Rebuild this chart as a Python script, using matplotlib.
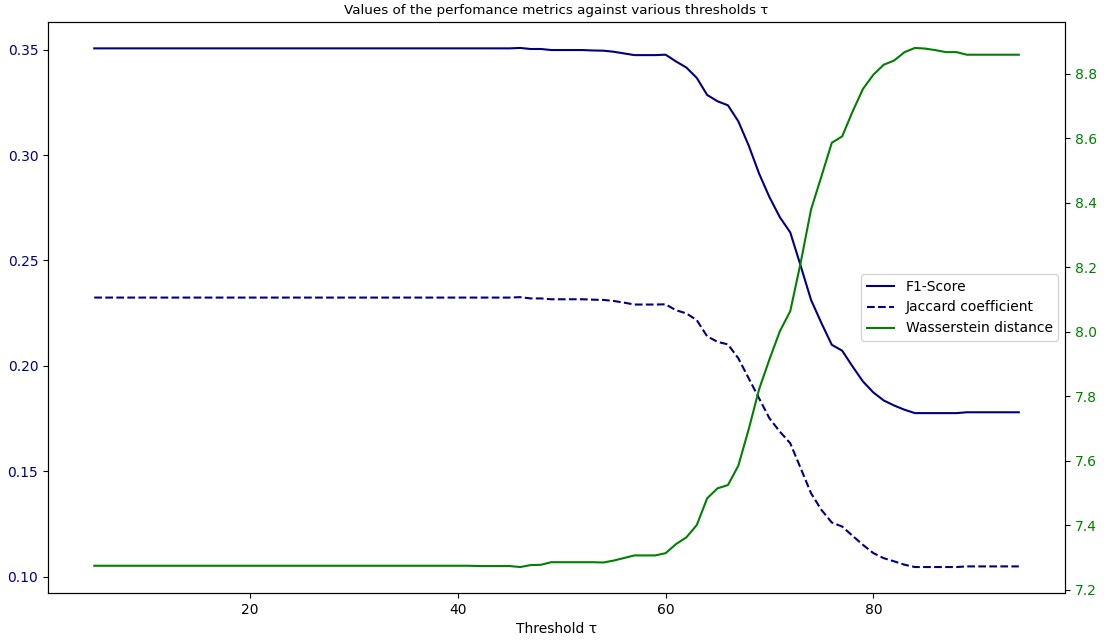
import matplotlib
matplotlib.use("Agg")
import matplotlib.pyplot as plt

thresholds = list(range(5, 95))

f1_score = [
    0.3506, 0.3506, 0.3506, 0.3506, 0.3506, 0.3506, 0.3506, 0.3506, 0.3506, 0.3506,  # 5-14
    0.3506, 0.3506, 0.3506, 0.3506, 0.3506, 0.3506, 0.3506, 0.3506, 0.3506, 0.3506,  # 15-24
    0.3506, 0.3506, 0.3506, 0.3506, 0.3506, 0.3506, 0.3506, 0.3506, 0.3506, 0.3506,  # 25-34
    0.3506, 0.3506, 0.3506, 0.3506, 0.3506, 0.3506, 0.3506, 0.3506, 0.3506, 0.3506,  # 35-44
    0.3506, 0.3508, 0.3503, 0.3503, 0.3498, 0.3498, 0.3498, 0.3498, 0.3496, 0.3495,  # 45-54
    0.3490, 0.3482, 0.3474, 0.3474, 0.3474, 0.3476, 0.3444, 0.3415, 0.3366, 0.3285,  # 55-64
    0.3255, 0.3236, 0.3160, 0.3045, 0.2912, 0.2800, 0.2705, 0.2633, 0.2475, 0.2313,  # 65-74
    0.2203, 0.2100, 0.2072, 0.1997, 0.1926, 0.1874, 0.1836, 0.1812, 0.1792, 0.1776,  # 75-84
    0.1776, 0.1776, 0.1776, 0.1776, 0.1780, 0.1780, 0.1780, 0.1780, 0.1780, 0.1780,  # 85-94
]

jaccard = [
    0.2324, 0.2324, 0.2324, 0.2324, 0.2324, 0.2324, 0.2324, 0.2324, 0.2324, 0.2324,
    0.2324, 0.2324, 0.2324, 0.2324, 0.2324, 0.2324, 0.2324, 0.2324, 0.2324, 0.2324,
    0.2324, 0.2324, 0.2324, 0.2324, 0.2324, 0.2324, 0.2324, 0.2324, 0.2324, 0.2324,
    0.2324, 0.2324, 0.2324, 0.2324, 0.2324, 0.2324, 0.2324, 0.2324, 0.2324, 0.2324,
    0.2324, 0.2326, 0.2320, 0.2320, 0.2316, 0.2316, 0.2316, 0.2316, 0.2314, 0.2313,
    0.2308, 0.2300, 0.2291, 0.2291, 0.2291, 0.2292, 0.2264, 0.2249, 0.2217, 0.2140,
    0.2114, 0.2102, 0.2036, 0.1941, 0.1846, 0.1751, 0.1688, 0.1633, 0.1515, 0.1396,
    0.1317, 0.1257, 0.1238, 0.1194, 0.1151, 0.1112, 0.1088, 0.1073, 0.1057, 0.1046,
    0.1046, 0.1046, 0.1046, 0.1046, 0.1049, 0.1049, 0.1049, 0.1049, 0.1049, 0.1049,
]

wasserstein = [
    7.275, 7.275, 7.275, 7.275, 7.275, 7.275, 7.275, 7.275, 7.275, 7.275,
    7.275, 7.275, 7.275, 7.275, 7.275, 7.275, 7.275, 7.275, 7.275, 7.275,
    7.275, 7.275, 7.275, 7.275, 7.275, 7.275, 7.275, 7.275, 7.275, 7.275,
    7.275, 7.275, 7.275, 7.275, 7.275, 7.275, 7.275, 7.274, 7.274, 7.274,
    7.274, 7.271, 7.277, 7.278, 7.286, 7.286, 7.286, 7.286, 7.286, 7.285,
    7.291, 7.299, 7.307, 7.307, 7.307, 7.314, 7.342, 7.363, 7.401, 7.484,
    7.515, 7.525, 7.585, 7.698, 7.822, 7.915, 8.002, 8.064, 8.214, 8.379,
    8.482, 8.586, 8.606, 8.683, 8.753, 8.797, 8.828, 8.841, 8.867, 8.880,
    8.878, 8.873, 8.867, 8.867, 8.859, 8.859, 8.859, 8.859, 8.859, 8.859,
]

fig, ax = plt.subplots(figsize=(11.04, 6.41), dpi=100)
fig.subplots_adjust(left=0.0435, right=0.9647, top=0.9657, bottom=0.0749)

l1, = ax.plot(thresholds, f1_score, color='navy', linestyle='-', label='F1-Score')
l2, = ax.plot(thresholds, jaccard, color='navy', linestyle='--', label='Jaccard coefficient')
ax.set_xlabel('Threshold τ')
ax.set_title('Values of the perfomance metrics against various thresholds τ', fontsize=9.7)
ax.tick_params(axis='y', labelcolor='navy')

ax2 = ax.twinx()
l3, = ax2.plot(thresholds, wasserstein, color='green', label='Wasserstein distance')
ax2.tick_params(axis='y', labelcolor='green')

ax.legend(handles=[l1, l2, l3], loc='center right')

fig.savefig('out.png', dpi=100)
